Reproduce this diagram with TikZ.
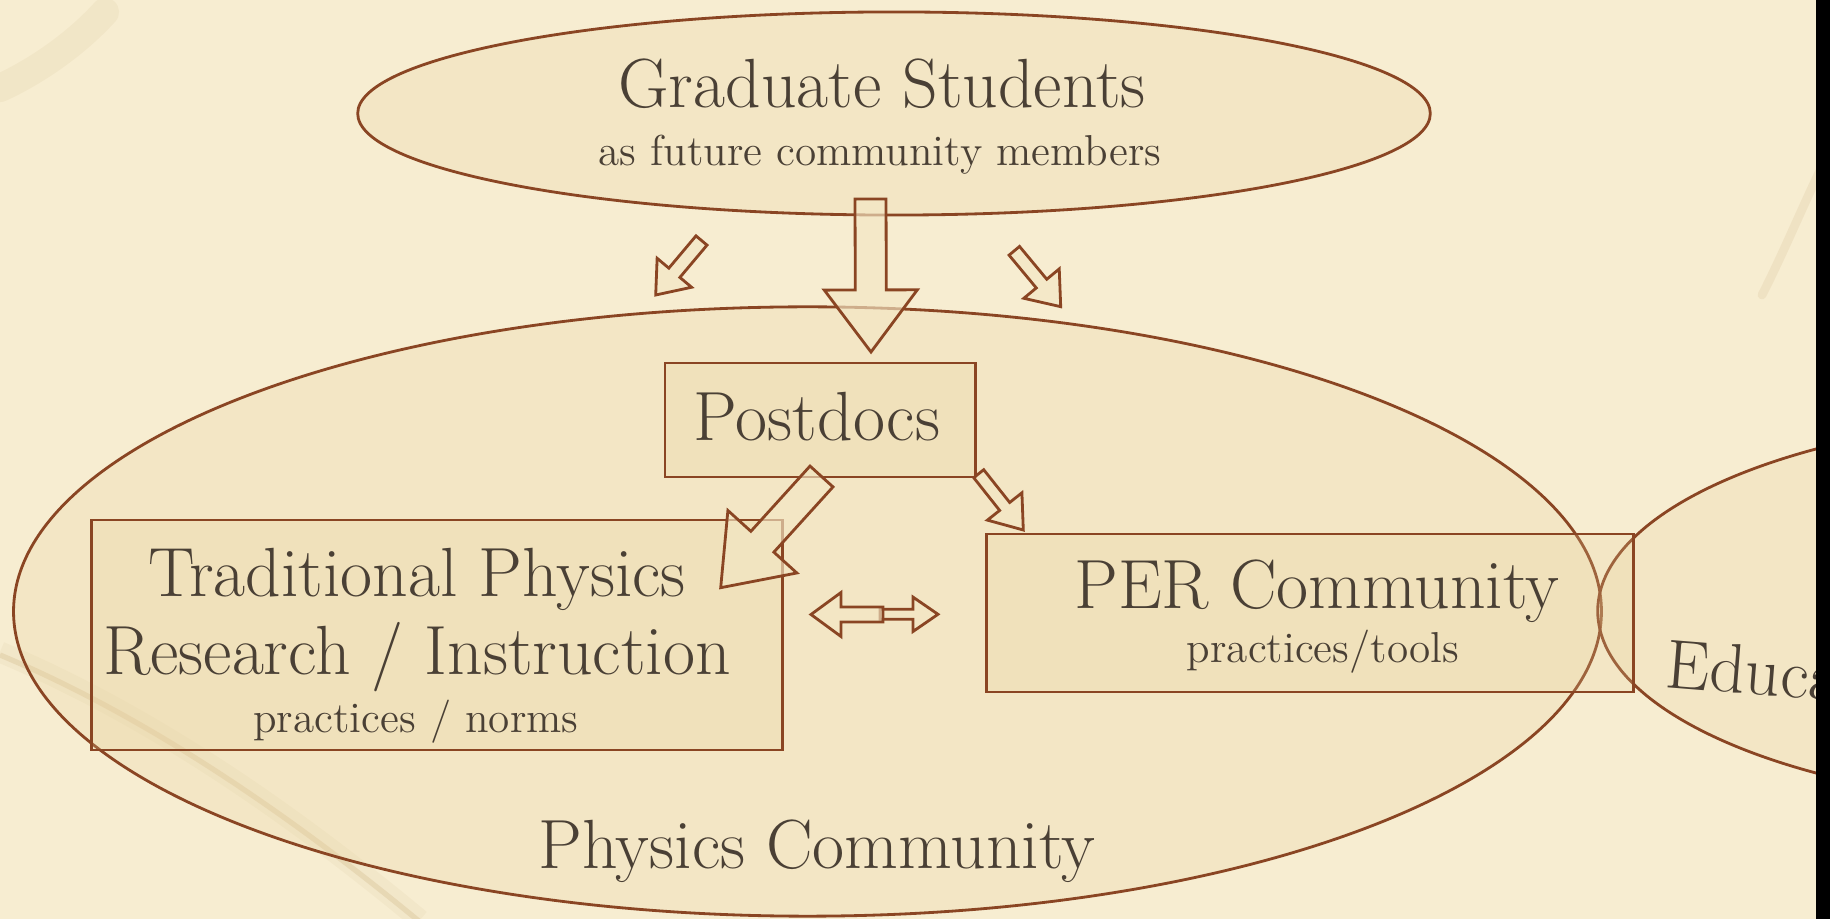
\documentclass[tikz,border=0pt]{standalone}
\usetikzlibrary{calc,shapes.geometric}

\definecolor{paper}{HTML}{F7EDD1}
\definecolor{stain}{HTML}{B08A4E}
\definecolor{rim}{HTML}{8A4523}
\definecolor{tan}{HTML}{E8D19C}
\definecolor{ink}{HTML}{4A4035}

\tikzset{
  frame/.style={draw=rim, line width=0.8pt, fill=tan, fill opacity=0.22, text opacity=1, inner sep=0pt},
  blockarr/.style={draw=rim, line width=0.8pt, fill=paper!75!tan, fill opacity=0.65, line join=miter},
  big/.style={text=ink, font=\fontsize{19.8}{24}\selectfont, inner sep=0pt, anchor=base},
  sub/.style={text=ink, font=\fontsize{12.3}{15}\selectfont, inner sep=0pt, anchor=base}
}

% hollow arrow: tail, tip, half shaft, half head, head length
\newcommand\blockarrow[5]{%
  \path ($(#2)!#5!(#1)$) coordinate (hb);
  \draw[blockarr] ($(#1)!#3!90:(#2)$) -- ($(hb)!#3!-90:(#1)$) -- ($(hb)!#4!-90:(#1)$) -- (#2)
    -- ($(hb)!#4!90:(#1)$) -- ($(hb)!#3!90:(#1)$) -- ($(#1)!#3!-90:(#2)$) -- cycle;}

\begin{document}
\begin{tikzpicture}[x=0.01cm,y=-0.01cm]
  \useasboundingbox (0,0) rectangle (1830,919);
  \fill[paper] (0,0) rectangle (1830,919);
  % stains in the paper
  \draw[stain, opacity=0.07, line width=8pt, line cap=round] (0,88) .. controls (35,72) and (75,45) .. (105,12);
  \draw[stain, opacity=0.16, line width=1.5pt] (0,655) .. controls (120,705) and (260,790) .. (420,922);
  \draw[stain, opacity=0.06, line width=6pt] (0,652) .. controls (120,702) and (260,787) .. (420,920);
  \draw[stain, opacity=0.10, line width=2.5pt, line cap=round] (1830,150) .. controls (1805,200) and (1785,250) .. (1762,295);

  \node[frame, ellipse, minimum width=15.87cm, minimum height=6.09cm] (phys) at (807.5,611.5) {};
  \node[frame, ellipse, minimum width=10cm, minimum height=3.92cm] (edu) at (2098,611) {};
  \node[frame, ellipse, minimum width=10.72cm, minimum height=2.03cm] (grad) at (894,113.5) {};
  \node[frame, minimum width=3.10cm, minimum height=1.14cm] (post) at (820,420) {};
  \node[frame, minimum width=6.90cm, minimum height=2.30cm] (trad) at (437,635) {};
  \node[frame, minimum width=6.46cm, minimum height=1.58cm] (per) at (1310,613) {};

  \node[big] (gradname) at (882,108) {Graduate Students};
  \node[sub] (gradsub) at (880,166) {as future community members};
  \node[big] (postname) at (817,441) {Postdocs};
  \node[big] (tradname) at (417,597) {Traditional Physics};
  \node[big] (tradname2) at (417,675) {Research / Instruction};
  \node[sub] (tradsub) at (416,733) {practices / norms};
  \node[big] (pername) at (1317,609) {PER Community};
  \node[sub] (persub) at (1323,663) {practices/tools};
  \node[big] (physname) at (817,869) {Physics Community};
  \node[big, anchor=base west, rotate=-4.6] (eduname) at (1664,687) {Educa};

  % arrows
  \coordinate (gp-tail) at (870.5,199);   \coordinate (gp-tip) at (871,352);
  \coordinate (pt-tail) at (821.5,476.5); \coordinate (pt-tip) at (720.7,587.7);
  \coordinate (gt-tail) at (701.5,240.5); \coordinate (gt-tip) at (655.7,295);
  \coordinate (ge-tail) at (1014.3,250.8); \coordinate (ge-tip) at (1060.7,306.7);
  \coordinate (pe-tail) at (978.7,473.7); \coordinate (pe-tip) at (1023.3,530);
  \coordinate (tw-tail) at (883,614.5);   \coordinate (tw-tip) at (811,614.5);
  \coordinate (ew-tail) at (880,614.3);   \coordinate (ew-tip) at (938,614.3);

  \blockarrow{gp-tail}{gp-tip}{0.155cm}{0.465cm}{0.62cm}
  \blockarrow{pt-tail}{pt-tip}{0.155cm}{0.465cm}{0.62cm}
  \blockarrow{gt-tail}{gt-tip}{0.072cm}{0.225cm}{0.29cm}
  \blockarrow{ge-tail}{ge-tip}{0.068cm}{0.230cm}{0.30cm}
  \blockarrow{pe-tail}{pe-tip}{0.064cm}{0.220cm}{0.30cm}
  \blockarrow{ew-tail}{ew-tip}{0.05cm}{0.172cm}{0.25cm}
  \blockarrow{tw-tail}{tw-tip}{0.075cm}{0.22cm}{0.30cm}

  \fill[black] (1816,0) rectangle (1830,919);
\end{tikzpicture}
\end{document}
